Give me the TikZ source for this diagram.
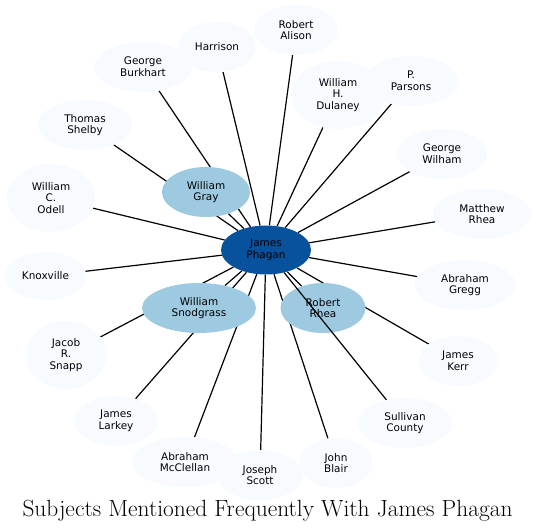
\documentclass[tikz,border=0pt]{standalone}
\usepackage{fontspec}
\newfontfamily\labelfont{DejaVu Sans}
\usepackage{tikz}
\usetikzlibrary{shapes.geometric}
\usetikzlibrary{backgrounds}
\definecolor{hubblue}{HTML}{08519C}
\definecolor{midblue}{HTML}{9ECAE1}
\definecolor{paleblue}{HTML}{F7FBFF}
\tikzstyle{vertex}=[ellipse,fill=paleblue,inner sep=0pt,minimum height=50bp,align=center,font=\labelfont\fontsize{10.5}{11.7}\selectfont]
\tikzstyle{tall}=[minimum height=68bp]
\tikzstyle{link}=[draw=black,line width=1.2bp]

\begin{document}
\begin{tikzpicture}[x=1bp,y=-1bp]
\useasboundingbox (0,0) rectangle (537,531);
% hub and the three larger subjects
\node [vertex,fill=hubblue,minimum width=90bp,minimum height=49bp] (jp) at (266,250) {James\\Phagan};
\node [vertex,fill=midblue,minimum width=88bp] (wg) at (206,192) {William\\Gray};
\node [vertex,fill=midblue,minimum width=114bp] (ws) at (199,308) {William\\Snodgrass};
\node [vertex,fill=midblue,minimum width=85bp] (rr) at (323,308) {Robert\\Rhea};
% outer ring
\node [vertex,minimum width=84bp] (ra) at (296,30) {Robert\\Alison};
\node [vertex,minimum width=78bp] (ha) at (217,47) {Harrison};
\node [vertex,minimum width=98bp] (gb) at (143,67) {George\\Burkhart};
\node [vertex,minimum width=94bp] (ts) at (85,125) {Thomas\\Shelby};
\node [vertex,tall,minimum width=88bp] (wo) at (51,198) {William\\C.\\Odell};
\node [vertex,minimum width=81bp,minimum height=48bp] (kn) at (45.5,276) {Knoxville};
\node [vertex,tall,minimum width=81bp] (jrs) at (66,355) {Jacob\\R.\\Snapp};
\node [vertex,minimum width=84bp] (jl) at (116,421) {James\\Larkey};
\node [vertex,minimum width=106bp] (am) at (185,462) {Abraham\\McClellan};
\node [vertex,minimum width=85bp] (jsc) at (260,475) {Joseph\\Scott};
\node [vertex,minimum width=73bp] (jb) at (336,463) {John\\Blair};
\node [vertex,minimum width=94bp] (sc) at (405,423) {Sullivan\\County};
\node [vertex,minimum width=79bp] (jk) at (458,361) {James\\Kerr};
\node [vertex,minimum width=101bp] (ag) at (465,285) {Abraham\\Gregg};
\node [vertex,minimum width=98bp] (mr) at (482,214) {Matthew\\Rhea};
\node [vertex,minimum width=90bp] (gw) at (442,154) {George\\Wilham};
\node [vertex,minimum width=94bp] (pp) at (411,81) {P.\\Parsons};
\node [vertex,tall,minimum width=94bp] (wd) at (338,95) {William\\H.\\Dulaney};
% edges behind the nodes
\begin{pgfonlayer}{background}
\foreach \n in {wg,ws,rr,ra,ha,gb,ts,wo,kn,jrs,jl,am,jsc,jb,jk,ag,mr,gw,pp,wd}
  \path [link] (jp) -- (\n);
\end{pgfonlayer}
\path [link] (jp) -- (sc);
\node [anchor=base,font=\fontsize{23.5}{26}\selectfont] (title) at (267.5,516) {Subjects Mentioned Frequently With James Phagan};
\end{tikzpicture}
\end{document}
